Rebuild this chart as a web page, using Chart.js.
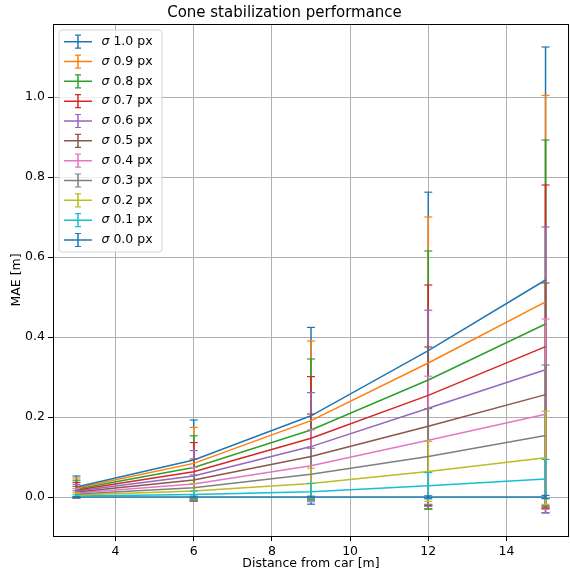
<!DOCTYPE html>
<html>
<head>
<meta charset="utf-8">
<script src="https://cdn.jsdelivr.net/npm/chart.js@4/dist/chart.umd.min.js"></script>
<style>
  html, body { margin: 0; padding: 0; background: #fff; overflow: hidden; }
  #wrap { width: 570px; height: 575px; }
</style>
</head>
<body>
<div id="wrap"><canvas id="myChart" width="570" height="575"></canvas></div>
<script>
// distances (x) and the sigma series
const distances = [3, 6, 9, 12, 15];
const sigmaValues = ["1.0", "0.9", "0.8", "0.7", "0.6", "0.5", "0.4", "0.3", "0.2", "0.1", "0.0"];
const sigmaLabels = sigmaValues.map(function (s) { return "σ " + s + " px"; });
const colors = ["#1f77b4", "#ff7f0e", "#2ca02c", "#d62728", "#9467bd", "#8c564b",
                "#e377c2", "#7f7f7f", "#bcbd22", "#17becf", "#1f77b4"];

// mean error per sigma
const mae10 = [0.025, 0.0925, 0.203, 0.366, 0.5425];
const mae09 = [0.0225, 0.084, 0.191, 0.335, 0.488];
const mae08 = [0.02, 0.074, 0.1675, 0.2925, 0.4325];
const mae07 = [0.0175, 0.063, 0.147, 0.254, 0.376];
const mae06 = [0.015, 0.0525, 0.126, 0.222, 0.318];
const mae05 = [0.0125, 0.0425, 0.101, 0.177, 0.256];
const mae04 = [0.01, 0.0325, 0.078, 0.142, 0.207];
const mae03 = [0.0075, 0.023, 0.057, 0.101, 0.154];
const mae02 = [0.005, 0.015, 0.034, 0.064, 0.098];
const mae01 = [0.0025, 0.006, 0.013, 0.028, 0.045];
const mae00 = [0, 0, 0, 0, 0];

// standard deviation (error bar half length) per sigma
const std10 = [0.0275, 0.1, 0.221, 0.396, 0.5825];
const std09 = [0.025, 0.09, 0.199, 0.365, 0.516];
const std08 = [0.022, 0.079, 0.1775, 0.3225, 0.46];
const std07 = [0.019, 0.073, 0.154, 0.276, 0.404];
const std06 = [0.0165, 0.0635, 0.135, 0.245, 0.357];
const std05 = [0.014, 0.0525, 0.1065, 0.198, 0.279];
const std04 = [0.011, 0.0415, 0.09, 0.16, 0.238];
const std03 = [0.008, 0.032, 0.065, 0.12, 0.176];
const std02 = [0.0055, 0.019, 0.038, 0.075, 0.1165];
const std01 = [0.003, 0.009, 0.021, 0.033, 0.049];
const std00 = [0.001, 0.002, 0.002, 0.003, 0.004];

const yTicks = [0, 0.2, 0.4, 0.6, 0.8, 1.0];

const means = [mae10, mae09, mae08, mae07, mae06, mae05, mae04, mae03, mae02, mae01, mae00];
const stds = [std10, std09, std08, std07, std06, std05, std04, std03, std02, std01, std00];

Chart.defaults.font.family = "'DejaVu Sans', sans-serif";
Chart.defaults.font.size = 12.5;
Chart.defaults.color = "#000";

var datasets = means.map(function (m, i) {
  return {
    label: sigmaLabels[i],
    data: distances.map(function (d, j) { return { x: d, y: m[j] }; }),
    borderColor: colors[i],
    backgroundColor: colors[i],
    borderWidth: 1.5,
    pointRadius: 0,
    tension: 0,
    fill: false
  };
});

// error bars: bars under the lines, caps on top (like matplotlib)
const errorBars = {
  id: "errorBars",
  beforeDatasetsDraw(chart) {
    const ctx = chart.ctx, xs = chart.scales.x, ys = chart.scales.y;
    ctx.save();
    ctx.lineWidth = 1.5;
    means.forEach(function (m, i) {
      ctx.strokeStyle = colors[i];
      distances.forEach(function (d, j) {
        const px = xs.getPixelForValue(d);
        ctx.beginPath();
        ctx.moveTo(px, ys.getPixelForValue(m[j] - stds[i][j]));
        ctx.lineTo(px, ys.getPixelForValue(m[j] + stds[i][j]));
        ctx.stroke();
      });
    });
    ctx.restore();
  },
  afterDatasetsDraw(chart) {
    const ctx = chart.ctx, xs = chart.scales.x, ys = chart.scales.y;
    ctx.save();
    ctx.lineWidth = 1.2;
    means.forEach(function (m, i) {
      ctx.strokeStyle = colors[i];
      distances.forEach(function (d, j) {
        const px = xs.getPixelForValue(d);
        [m[j] - stds[i][j], m[j] + stds[i][j]].forEach(function (v) {
          const py = ys.getPixelForValue(v);
          ctx.beginPath();
          ctx.moveTo(px - 4, py);
          ctx.lineTo(px + 4, py);
          ctx.stroke();
        });
      });
    });
    ctx.restore();
  },
  afterDraw(chart) {
    const ctx = chart.ctx, a = chart.chartArea;
    ctx.save();
    // frame
    ctx.strokeStyle = "#000";
    ctx.lineWidth = 1;
    ctx.strokeRect(a.left + 0.5, a.top + 0.5, a.right - a.left - 1, a.bottom - a.top);
    // legend
    const lx = 59, ly = 30, lw = 103, lh = 222, r = 3;
    ctx.beginPath();
    ctx.moveTo(lx + r, ly);
    ctx.arcTo(lx + lw, ly, lx + lw, ly + lh, r);
    ctx.arcTo(lx + lw, ly + lh, lx, ly + lh, r);
    ctx.arcTo(lx, ly + lh, lx, ly, r);
    ctx.arcTo(lx, ly, lx + lw, ly, r);
    ctx.closePath();
    ctx.fillStyle = "rgba(255,255,255,0.8)";
    ctx.fill();
    ctx.strokeStyle = "rgba(204,204,204,0.8)";
    ctx.lineWidth = 1;
    ctx.stroke();
    ctx.textBaseline = "middle";
    ctx.textAlign = "left";
    sigmaValues.forEach(function (s, i) {
      const cy = 41.7 + i * 19.83;
      ctx.strokeStyle = colors[i];
      ctx.lineWidth = 1.5;
      ctx.beginPath();
      ctx.moveTo(64, cy); ctx.lineTo(92, cy);
      ctx.moveTo(78, cy - 6.5); ctx.lineTo(78, cy + 6.5);
      ctx.stroke();
      ctx.lineWidth = 1.2;
      ctx.beginPath();
      ctx.moveTo(75, cy - 6.5); ctx.lineTo(81, cy - 6.5);
      ctx.moveTo(75, cy + 6.5); ctx.lineTo(81, cy + 6.5);
      ctx.stroke();
      ctx.fillStyle = "#000";
      ctx.font = "italic 12.5px 'DejaVu Sans'";
      ctx.fillText("σ", 101.5, cy);
      const w = ctx.measureText("σ").width;
      ctx.font = "12.5px 'DejaVu Sans'";
      ctx.fillText(" " + s + " px", 101.5 + w, cy);
    });
    ctx.restore();
  }
};

var ctx = document.getElementById("myChart");
var myChart = new Chart(ctx, {
  type: "line",
  data: { datasets: datasets },
  options: {
    responsive: false,
    animation: false,
    layout: { padding: { left: 0, right: 1, top: 0, bottom: 0 } },
    plugins: {
      legend: { display: false },
      tooltip: { enabled: false },
      title: {
        display: true,
        text: "Cone stabilization performance",
        color: "#000",
        font: { size: 15, weight: "normal" },
        padding: { top: 4, bottom: 2 }
      }
    },
    scales: {
      x: {
        type: "linear",
        min: 2.4,
        max: 15.6,
        afterFit: function (s) { s.height = 39; },
        ticks: {
          stepSize: 2,
          includeBounds: false,
          padding: 3,
          color: "#000",
          callback: function (v) { return String(Math.round(v)); }
        },
        grid: { color: "#b0b0b0", lineWidth: 1, tickColor: "#000", tickLength: 5 },
        border: { display: false },
        title: {
          display: true,
          text: "Distance from car [m]",
          color: "#000",
          padding: { top: 0, bottom: 4 }
        }
      },
      y: {
        min: -0.0975,
        max: 1.1825,
        afterFit: function (s) { s.width = 53; },
        afterBuildTicks: function (s) { s.ticks = yTicks.map(function (v) { return { value: v }; }); },
        ticks: {
          padding: 3,
          color: "#000",
          callback: function (v) { return Math.abs(v) < 1e-9 ? "0.0" : v.toFixed(1); }
        },
        grid: { color: "#b0b0b0", lineWidth: 1, tickColor: "#000", tickLength: 5 },
        border: { display: false },
        title: {
          display: true,
          text: "MAE [m]",
          color: "#000",
          padding: { top: 9, bottom: 0 }
        }
      }
    }
  },
  plugins: [errorBars]
});
</script>
</body>
</html>
